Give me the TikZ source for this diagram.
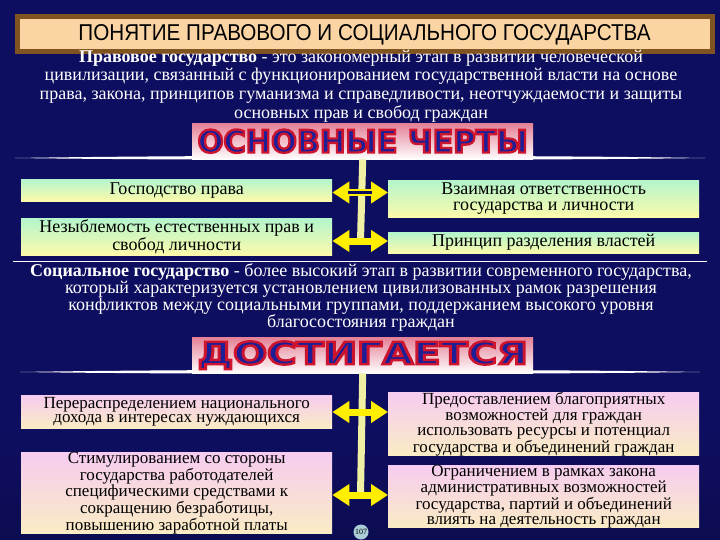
\documentclass[tikz,border=0pt]{standalone}
\usepackage{fontspec}
\usepackage{graphicx}
\setmainfont{Liberation Serif}
\newfontfamily\headfont{Liberation Sans}
\newfontfamily\bannerfont{DejaVu Sans}
\usetikzlibrary{arrows.meta,positioning}
\definecolor{nvy}{RGB}{14, 14, 96}
\definecolor{peach}{RGB}{251, 212, 164}
\definecolor{brwn}{RGB}{128, 84, 32}
\definecolor{mint}{RGB}{180, 245, 205}
\definecolor{lemon}{RGB}{252, 250, 170}
\definecolor{pnk}{RGB}{246, 204, 240}
\definecolor{pnkylw}{RGB}{250, 236, 196}
\definecolor{ylw}{RGB}{255, 238, 0}
\definecolor{pale}{RGB}{240, 240, 165}
\definecolor{rose}{RGB}{228, 128, 150}
\definecolor{bltxt}{RGB}{30, 30, 150}
\definecolor{pgcol}{RGB}{170, 205, 215}
\pgfdeclareverticalshading{sky}{100bp}{color(0bp)=(black); color(5bp)=(nvy!55!black); color(35bp)=(nvy); color(75bp)=(nvy); color(93bp)=(nvy!60!black); color(100bp)=(black)}
\newcommand\bannertxt[1]{\resizebox{330pt}{23pt}{\bannerfont\bfseries\color{bltxt}%
    \special{pdf:literal direct 2 Tr 0.75 w 0.80 0.08 0.18 RG}#1\special{pdf:literal direct 0 Tr}}}

\begin{document}
\begin{tikzpicture}[
        x=1pt, y=-1pt,
        every node/.style={inner sep=0pt},
        para/.style={text=white, align=center, font=\fontsize{18}{18.7}\selectfont},
        gbox/.style={top color=mint, bottom color=lemon, minimum width=311pt,
            align=center, anchor=north west, font=\fontsize{18}{15.5}\selectfont},
        pbox/.style={gbox, top color=pnk, bottom color=pnkylw,
            font=\fontsize{17}{14.8}\selectfont},
        banner/.style={top color=rose, bottom color=white, minimum width=341pt,
            minimum height=36pt, anchor=north west},
        lens/.style={fill=white},
        bar/.style={pale, line width=7pt},
        dblarr/.style={ylw, line width=7pt,
            {Triangle[width=21pt,length=17pt]}-{Triangle[width=21pt,length=17pt]}}
    ]

    \useasboundingbox (0,0) rectangle (720,540);
    \shade[shading=sky] (0,0) rectangle (720,540);

    % title
    \node[fill=peach, draw=brwn, line width=5pt, minimum width=695pt, minimum height=35pt,
        anchor=north west] (title) at (14.5,14.5)
        {\resizebox{572pt}{16pt}{\headfont ПОНЯТИЕ ПРАВОВОГО И СОЦИАЛЬНОГО ГОСУДАРСТВА}};

    \node[para] (def1) at (361,86) {\textbf{Правовое государство} - это закономерный этап в развитии человеческой\\
        цивилизации, связанный с функционированием государственной власти на основе\\
        права, закона, принципов гуманизма и справедливости, неотчуждаемости и защиты\\
        основных прав и свобод граждан};

    % first block
    \fill[lens] (15,158) .. controls (200,155) and (520,155) .. (705,158)
        .. controls (520,160.5) and (200,160.5) .. (15,158) -- cycle;
    \node[banner] (b1) at (192,123) {};
    \node (b1t) at (b1.center) {\bannertxt{ОСНОВНЫЕ ЧЕРТЫ}};

    \node[gbox, minimum height=22pt] (f1) at (21,179) {Господство права};
    \node[gbox, minimum height=37pt] (f2) at (388,180) {Взаимная ответственность\\государства и личности};
    \node[gbox, minimum height=37pt] (f3) at (21,218) {Незыблемость естественных прав и\\свобод личности};
    \node[gbox, minimum height=21pt] (f4) at (388,232) {Принцип разделения властей};

    \coordinate (j1) at (360.5,192.5);
    \coordinate (j2) at (360.5,241);
    \draw[bar] (b1.south) -- (j2);
    \draw[dblarr] (f1.east |- j1) -- (f2.west |- j1);
    \draw[nvy, line width=2.2pt] ([xshift=16pt]f1.east |- j1) -- ([xshift=-16pt]f2.west |- j1);
    \draw[dblarr] (f3.east |- j2) -- (f4.west |- j2);

    \draw[white, line width=1pt] (13,261) -- (707,261);

    \node[para, font=\fontsize{18}{17}\selectfont] (def2) at (361,297)
        {\textbf{Социальное государство} - более высокий этап в развитии современного государства,\\
        который характеризуется установлением цивилизованных рамок разрешения\\
        конфликтов между социальными группами, поддержанием высокого уровня\\
        благосостояния граждан};

    % second block
    \fill[lens] (20,372) .. controls (200,369) and (520,369) .. (700,372)
        .. controls (520,374.5) and (200,374.5) .. (20,372) -- cycle;
    \node[banner] (b2) at (192,337) {};
    \node (b2t) at (b2.center) {\bannertxt{ДОСТИГАЕТСЯ}};

    \node[pbox, minimum height=33pt] (m1) at (21,395)
        {Перераспределением национального\\дохода в интересах нуждающихся};
    \node[pbox, minimum height=61pt] (m2) at (388,392)
        {Предоставлением благоприятных\\возможностей для граждан\\использовать ресурсы и потенциал\\государства и объединений граждан};
    \node[pbox, minimum height=75pt] (m3) at (21,452)
        {Стимулированием со стороны\\государства работодателей\\специфическими средствами к\\сокращению безработицы,\\повышению заработной платы};
    \node[pbox, minimum height=60pt] (m4) at (388,465)
        {Ограничением в рамках закона\\административных возможностей\\государства, партий и объединений\\влиять на деятельность граждан};

    \coordinate (j3) at (360.5,412);
    \coordinate (j4) at (360.5,495);
    \draw[bar] (b2.south) -- (j4);
    \draw[dblarr] (m1.east |- j3) -- (m2.west |- j3);
    \draw[dblarr] (m3.east |- j4) -- (m4.west |- j4);

    \node[circle, fill=pgcol, minimum size=15pt, font=\fontsize{8}{8}\selectfont] (pg) at (361,532) {107};

\end{tikzpicture}
\end{document}
